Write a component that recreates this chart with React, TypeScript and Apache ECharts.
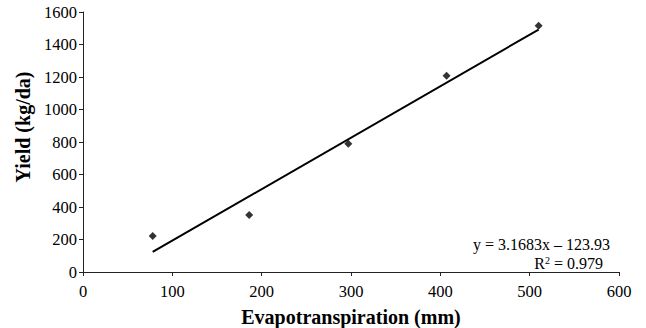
import React, { useEffect, useRef } from "react";
import * as echarts from "echarts";

const etValues = [78, 186, 297, 407, 510];
const yieldValues = [221, 351, 790, 1208, 1515];
const slope = 3.1683;
const intercept = -123.93;
const trendX = [78, 510];
const equationText = "y = 3.1683x – 123.93";
const r2Text = "R{s|2} = 0.979";
const xTitle = "Evapotranspiration (mm)";
const yTitle = "Yield (kg/da)";

export default function App() {
  const ref = useRef<HTMLDivElement>(null);
  useEffect(() => {
    const chart = echarts.init(ref.current!, undefined, { renderer: "svg" });
    const font = "'Times New Roman', 'Liberation Serif', serif";
    chart.setOption({
      animation: false,
      backgroundColor: "#fff",
      grid: { left: 83, top: 12, width: 536, height: 260, containLabel: false, outerBoundsMode: "none" },
      xAxis: {
        type: "value",
        min: 0,
        max: 600,
        interval: 100,
        name: xTitle,
        nameLocation: "middle",
        nameGap: 35,
        nameTextStyle: { fontFamily: font, fontSize: 20, fontWeight: "bold", color: "#000" },
        axisLine: { lineStyle: { color: "#222", width: 1 } },
        axisTick: { show: true, length: 4, lineStyle: { color: "#222" } },
        axisLabel: { fontFamily: font, fontSize: 16.5, color: "#000", margin: 11, formatter: (v: number) => String(v) },
        splitLine: { show: false },
      },
      yAxis: {
        type: "value",
        min: 0,
        max: 1600,
        interval: 200,
        axisLine: { show: true, lineStyle: { color: "#222", width: 1 } },
        axisTick: { show: true, length: 4, lineStyle: { color: "#222" } },
        axisLabel: { fontFamily: font, fontSize: 16.5, color: "#000", margin: 6, formatter: (v: number) => String(v) },
        splitLine: { show: false },
      },
      series: [
        {
          type: "line",
          data: trendX.map((x) => [x, slope * x + intercept]),
          symbol: "none",
          lineStyle: { color: "#000", width: 2 },
          z: 1,
        },
        {
          type: "scatter",
          data: etValues.map((x, i) => [x, yieldValues[i]]),
          symbol: "diamond",
          symbolSize: 8,
          itemStyle: { color: "#000" },
          z: 2,
        },
      ],
      graphic: [
        {
          type: "text",
          x: 23,
          y: 127,
          rotation: Math.PI / 2,
          style: {
            text: yTitle,
            fontFamily: font,
            fontSize: 20,
            fontWeight: "bold",
            fill: "#000",
            textAlign: "center",
            textVerticalAlign: "middle",
          },
        },
        {
          type: "text",
          right: 36,
          top: 236,
          style: { text: equationText, fontFamily: font, fontSize: 16, fill: "#000", textAlign: "right" },
        },
        {
          type: "text",
          right: 43,
          top: 255,
          style: {
            text: r2Text,
            fontFamily: font,
            fontSize: 16,
            fill: "#000",
            rich: { s: { fontSize: 10, verticalAlign: "top", padding: [0, 0, 6, 0], fontFamily: font } },
          },
        },
      ],
    });
    return () => chart.dispose();
  }, []);
  return <div ref={ref} style={{ width: 646, height: 328, position: "absolute", left: 0, top: 0 }} />;
}
